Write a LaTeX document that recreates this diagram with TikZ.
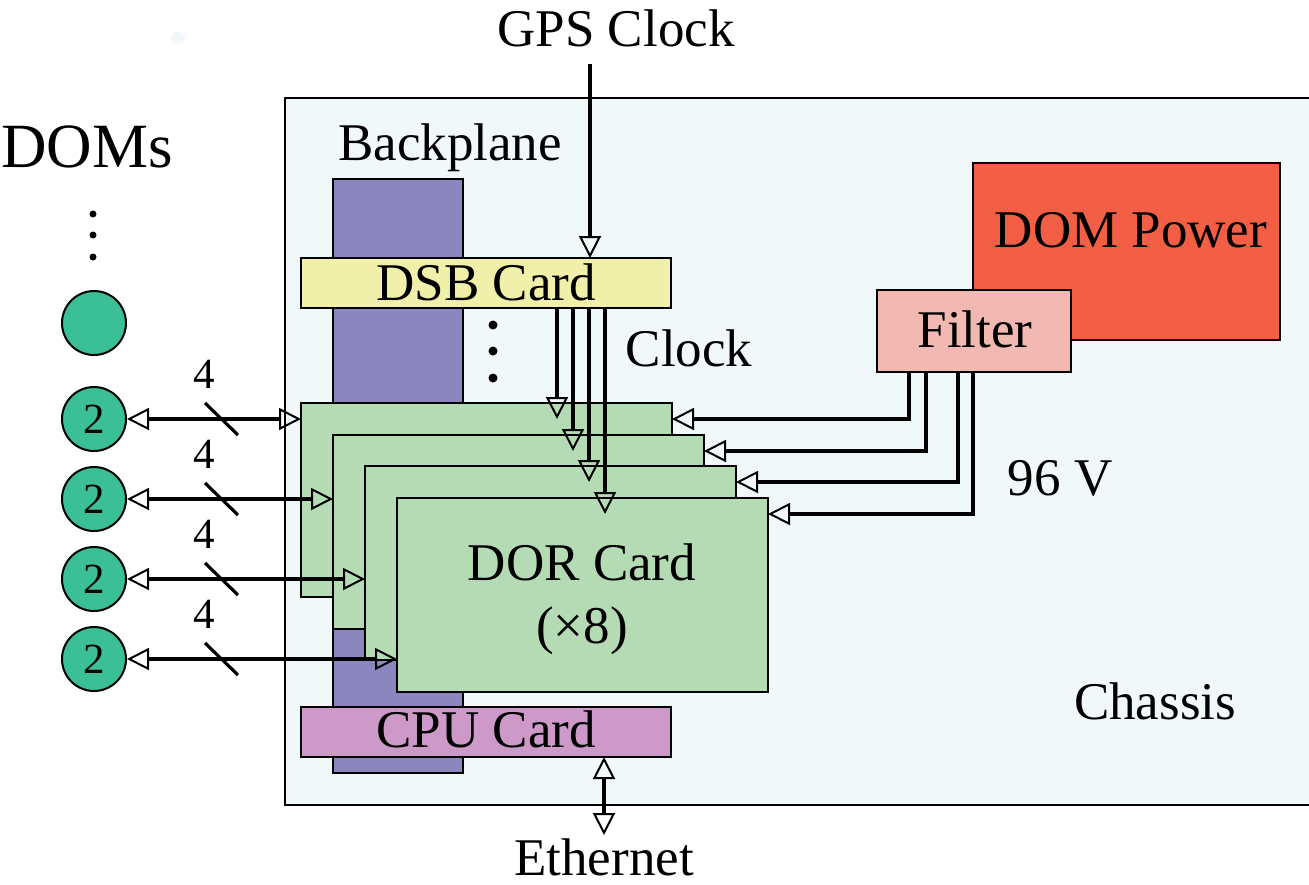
\documentclass[tikz,border=0pt]{standalone}
\usepackage{fontspec}
\setmainfont{Liberation Serif}
\usetikzlibrary{arrows.meta,calc}
\definecolor{chassisbg}{RGB}{240,248,250}
\definecolor{backpl}{RGB}{140,134,191}
\definecolor{dsbcol}{RGB}{240,240,170}
\definecolor{dorcol}{RGB}{181,219,181}
\definecolor{cpucol}{RGB}{204,153,200}
\definecolor{powcol}{RGB}{242,95,69}
\definecolor{filtcol}{RGB}{242,184,178}
\definecolor{domcol}{RGB}{59,191,150}
\tikzset{
  box/.style={draw=black, line width=1.8pt, inner sep=0pt, outer sep=0pt},
  lbl/.style={anchor=base, inner sep=0pt, font=\fontsize{53}{60}\selectfont},
  numlbl/.style={anchor=base, inner sep=0pt, font=\fontsize{43}{50}\selectfont},
  dom/.style={circle, draw=black, line width=2pt, fill=domcol, minimum size=64pt, inner sep=0pt, font=\fontsize{43}{50}\selectfont},
  tipo/.tip={Triangle[open, length=22pt, width=22pt, line width=2pt]},
  conn/.style={line width=4pt, -tipo},
  dconn/.style={line width=4pt, tipo-tipo},
  slashmark/.style={line width=3.2pt}
}
\begin{document}
\begin{tikzpicture}[x=1pt,y=-1pt]
\useasboundingbox (0,0) rectangle (1309,884);
\clip (0,0) rectangle (1309,884);
% stray dot
\fill[chassisbg] (178,38) ellipse [x radius=7, y radius=6];
% chassis
\draw[line width=1.8pt, fill=chassisbg] (285,98) rectangle (1320,805);
% backplane
\node[box, fill=backpl, minimum width=130pt, minimum height=594pt] (bp) at (398,476) {};
% DSB card
\node[box, fill=dsbcol, minimum width=370pt, minimum height=50pt] (dsb) at (486,283) {};
% DOR cards
\node[box, fill=dorcol, minimum width=371pt, minimum height=194pt] (card1) at (486.5,500) {};
\node[box, fill=dorcol, minimum width=371pt, minimum height=194pt] (card2) at (518.5,532) {};
\node[box, fill=dorcol, minimum width=371pt, minimum height=194pt] (card3) at (550.5,563) {};
\node[box, fill=dorcol, minimum width=371pt, minimum height=194pt] (card4) at (582.5,595) {};
% CPU card
\node[box, fill=cpucol, minimum width=370pt, minimum height=50pt] (cpu) at (486,732) {};
% DOM power and filter
\node[box, fill=powcol, minimum width=307pt, minimum height=177pt] (pow) at (1126.5,251.5) {};
\node[box, fill=filtcol, minimum width=194pt, minimum height=82pt] (filt) at (974,331) {};
% dots
\foreach \yy in {325,351,378} \fill (493,\yy) circle [radius=4.5];
\foreach \yy in {214,235,257} \fill (93,\yy) circle [radius=3.5];
% labels
\node[lbl] (tgps) at (616,46) {GPS Clock};
\node[lbl] (tbp) at (450,160) {Backplane};
\node[lbl, font=\fontsize{63}{70}\selectfont] (tdoms) at (87,167) {DOMs};
\node[lbl] (tclock) at (689,366) {Clock};
\node[lbl] (tdsb) at (486,300) {DSB Card};
\node[lbl] (tpow) at (1131,247) {DOM Power};
\node[lbl] (tfilt) at (975,347) {Filter};
\node[lbl] (tv) at (1060,495) {96 V};
\node[lbl] (tdor) at (582,580) {DOR Card};
\node[lbl] (tx8) at (582,643) {(×8)};
\node[lbl] (tchassis) at (1155,719) {Chassis};
\node[lbl] (tcpu) at (486,747) {CPU Card};
\node[lbl] (teth) at (604,875) {Ethernet};
% DOM circles
\node[dom] (d0) at (94,323) {};
\node[dom] (d1) at (94,419) {2};
\node[dom] (d2) at (94,499) {2};
\node[dom] (d3) at (94,579) {2};
\node[dom] (d4) at (94,659) {2};
% DOM links
\foreach \i in {1,2,3,4} {
  \draw[dconn] (d\i.east) -- (d\i.east -| card\i.west);
}
\foreach \i/\yy in {1/388,2/468,3/548,4/628} {
  \node[numlbl] (n\i) at (204,\yy) {4};
}
\foreach \dy in {0,80,160,240} {
  \draw[slashmark] (205,403+\dy) -- (238,435+\dy);
}
% GPS clock
\coordinate (gpsS) at (590,64);
\draw[conn] (gpsS) -- (gpsS |- dsb.north);
% clock lines
\foreach \i/\dx in {1/256,2/272,3/288,4/304} {
  \coordinate (k\i) at ($(dsb.south west)+(\dx,0)$);
  \coordinate (ke\i) at ($(k\i |- card\i.north)+(0,16)$);
  \draw[conn] (k\i) -- (ke\i);
}
% filter lines
\foreach \i/\dx in {1/32,2/49,3/81,4/96} {
  \coordinate (f\i) at ($(filt.south west)+(\dx,0)$);
  \coordinate (fe\i) at ($(card\i.north east)+(0,16)$);
  \draw[conn] (f\i) |- (fe\i);
}
% ethernet
\coordinate (eth1) at ($(cpu.south west)+(303,0)$);
\coordinate (eth2) at ($(eth1)+(0,78)$);
\draw[dconn] (eth1) -- (eth2);
\end{tikzpicture}
\end{document}
